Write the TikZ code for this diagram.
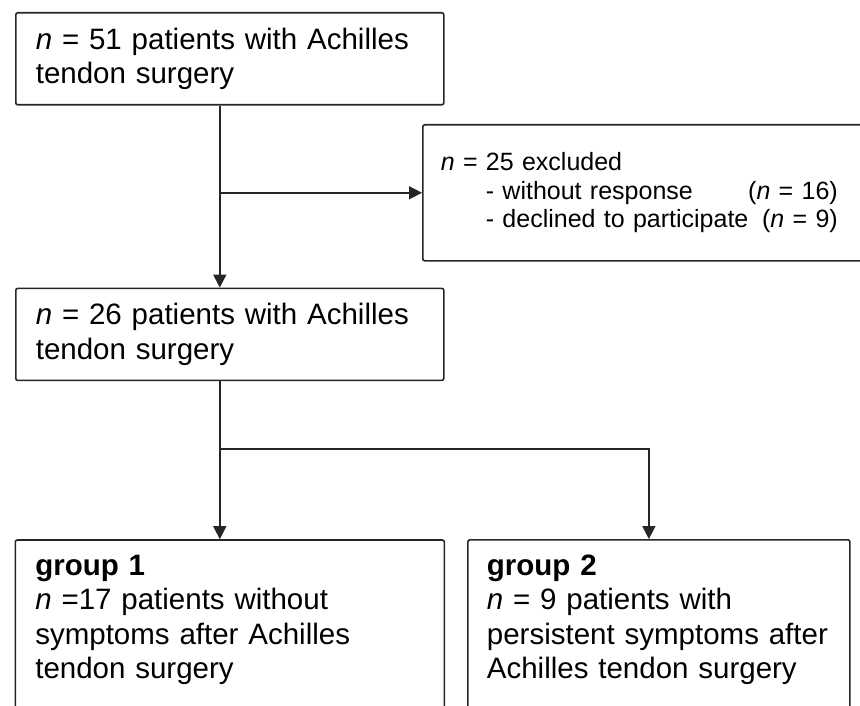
\documentclass[tikz,border=0pt]{standalone}
\usepackage{fontspec}
\setmainfont{Liberation Sans}
\usetikzlibrary{positioning, arrows.meta}
\tikzstyle{box} = [rectangle, rounded corners=2pt, draw=black!85, line width=1.6pt, inner xsep=20pt, inner ysep=15pt, align=left, font=\fontsize{29.5}{34.5}\selectfont]
\tikzstyle{patients} = [box, text width=388pt, minimum height=89pt]
\tikzstyle{excluded} = [box, text width=440pt, minimum height=136pt, inner xsep=18pt, font=\fontsize{25}{28.5}\selectfont]
\tikzstyle{group} = [box]
\tikzstyle{arrow} = [line width=1.6pt, draw=black!85, -{Triangle[length=13pt, width=13pt]}]

\begin{document}
\begin{tikzpicture}[x=1pt, y=1pt, node distance=182pt]
\useasboundingbox (0,0) rectangle (860,-706);
\clip (0,0) rectangle (860,-706);

% Nodes
\node (n51) [patients, anchor=north west] at (15,-12) {\textit{n} = 51 patients with Achilles\\tendon surgery};
\node (n26) [patients, below=of n51] {\textit{n} = 26 patients with Achilles\\tendon surgery};
\node (excl) [excluded, anchor=north west] at (422,-124) {\textit{n} = 25 excluded\\
  \makebox[397pt][l]{\hspace*{45pt}- without response\hfill(\textit{n} = 16)}\\
  \makebox[397pt][l]{\hspace*{45pt}- declined to participate\hfill(\textit{n} = 9)}};
\node (grp1) [group, text width=389pt, below=158pt of n26] {\textbf{group 1}\\\textit{n} =17 patients without\\symptoms after Achilles\\tendon surgery\rule[-45pt]{0pt}{0pt}};
\node (grp2) [group, text width=344pt, inner xsep=19pt, right=22pt of grp1] {\textbf{group 2}\\\textit{n} = 9 patients with\\persistent symptoms after\\Achilles tendon surgery\rule[-45pt]{0pt}{0pt}};

% Arrows
\coordinate (top) at ([xshift=-10pt]n51.south);
\coordinate (mid) at ([xshift=-10pt]n26.south);
\coordinate (split) at ([yshift=-68pt]mid);
\draw [arrow] (top) -- (top |- n26.north);
\draw [arrow] (top |- excl.west) -- (excl.west);
\draw [arrow] (mid) -- (mid |- grp1.north);
\draw [arrow] (split) -| ([xshift=-10pt]grp2.north);

\end{tikzpicture}
\end{document}
